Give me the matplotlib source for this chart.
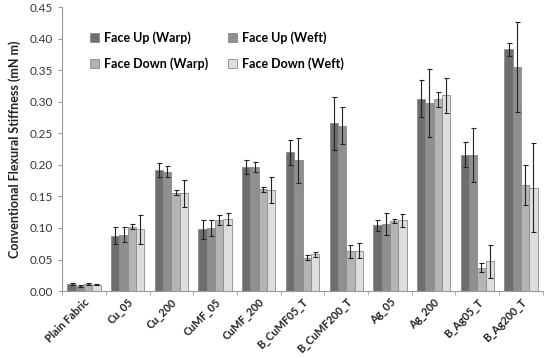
import numpy as np
import matplotlib.pyplot as plt
from matplotlib.ticker import FixedLocator, NullFormatter

plt.rcParams['font.family'] = ['Lato', 'DejaVu Sans']

# Data
categories = ['Plain Fabric', 'Cu_05', 'Cu_200', 'CuMF_05', 'CuMF_200', 'B_CuMF05_T',
              'B_CuMF200_T', 'Ag_05', 'Ag_200', 'B_Ag05_T', 'B_Ag200_T']
series_names = ['Face Up (Warp)', 'Face Up (Weft)', 'Face Down (Warp)', 'Face Down (Weft)']

up_warp = [0.011, 0.088, 0.192, 0.098, 0.197, 0.220, 0.266, 0.104, 0.305, 0.216, 0.383]
up_weft = [0.008, 0.089, 0.189, 0.100, 0.196, 0.207, 0.262, 0.106, 0.298, 0.216, 0.355]
down_warp = [0.011, 0.102, 0.156, 0.113, 0.161, 0.053, 0.063, 0.111, 0.304, 0.037, 0.168]
down_weft = [0.010, 0.098, 0.155, 0.114, 0.160, 0.058, 0.064, 0.112, 0.310, 0.047, 0.164]

up_warp_err = [0.002, 0.013, 0.011, 0.015, 0.011, 0.020, 0.042, 0.009, 0.029, 0.020, 0.010]
up_weft_err = [0.002, 0.012, 0.009, 0.013, 0.008, 0.035, 0.029, 0.017, 0.054, 0.043, 0.071]
down_warp_err = [0.001, 0.004, 0.004, 0.008, 0.004, 0.004, 0.010, 0.003, 0.012, 0.007, 0.032]
down_weft_err = [0.001, 0.023, 0.021, 0.009, 0.021, 0.004, 0.012, 0.010, 0.028, 0.026, 0.071]

values = [up_warp, up_weft, down_warp, down_weft]
errors = [up_warp_err, up_weft_err, down_warp_err, down_weft_err]
colors = ['#6e6e6e', '#8f8f8f', '#b4b4b4', '#dedede']

fig = plt.figure(figsize=(5.5, 3.58), dpi=100)
ax = fig.add_axes([0.113, 0.187, 0.874, 0.793])

x = np.arange(len(categories))
width = 0.19
bars = []
for i in range(4):
    b = ax.bar(x + (i - 1.5) * width, values[i], width, yerr=errors[i], color=colors[i],
               edgecolor='#8a8a8a', linewidth=0.6, label=series_names[i],
               error_kw=dict(ecolor='#222222', elinewidth=0.8, capsize=1.8, capthick=0.8))
    bars.append(b)

ax.set_xlim(-0.5, len(categories) - 0.5)
ax.set_ylim(0, 0.45)
ax.set_yticks(np.arange(0, 0.451, 0.05))
ax.set_yticklabels([f'{v:.2f}' for v in np.arange(0, 0.451, 0.05)], fontsize=8.5, color='#333333')

ax.set_xticks(x)
ax.set_xticklabels(categories, rotation=45, ha='right', rotation_mode='anchor',
                   fontsize=7.8, fontweight='bold', color='#222222')
ax.tick_params(axis='x', which='major', length=0, pad=4)
ax.xaxis.set_minor_locator(FixedLocator(np.arange(-0.5, len(categories), 1.0)))
ax.xaxis.set_minor_formatter(NullFormatter())
ax.tick_params(axis='x', which='minor', length=3, color='#999999', direction='out')
ax.tick_params(axis='y', length=3, color='#999999', direction='out')

for side in ['top', 'right']:
    ax.spines[side].set_visible(False)
for side in ['left', 'bottom']:
    ax.spines[side].set_color('#999999')
    ax.spines[side].set_linewidth(0.8)

ax.set_ylabel('Conventional Flexural Stiffness (mN m)', fontsize=9, fontweight='bold',
              color='#222222', labelpad=6)

# row-wise legend order: Up Warp, Up Weft / Down Warp, Down Weft
order = [0, 2, 1, 3]
ax.legend([bars[k] for k in order], [series_names[k] for k in order],
          ncol=2, loc='upper left', bbox_to_anchor=(0.035, 0.955), frameon=False,
          prop=dict(size=9, weight='bold'), handlelength=0.7, handleheight=0.7,
          handletextpad=0.4, columnspacing=1.6, labelspacing=1.1)

fig.savefig('out.png', dpi=100)
